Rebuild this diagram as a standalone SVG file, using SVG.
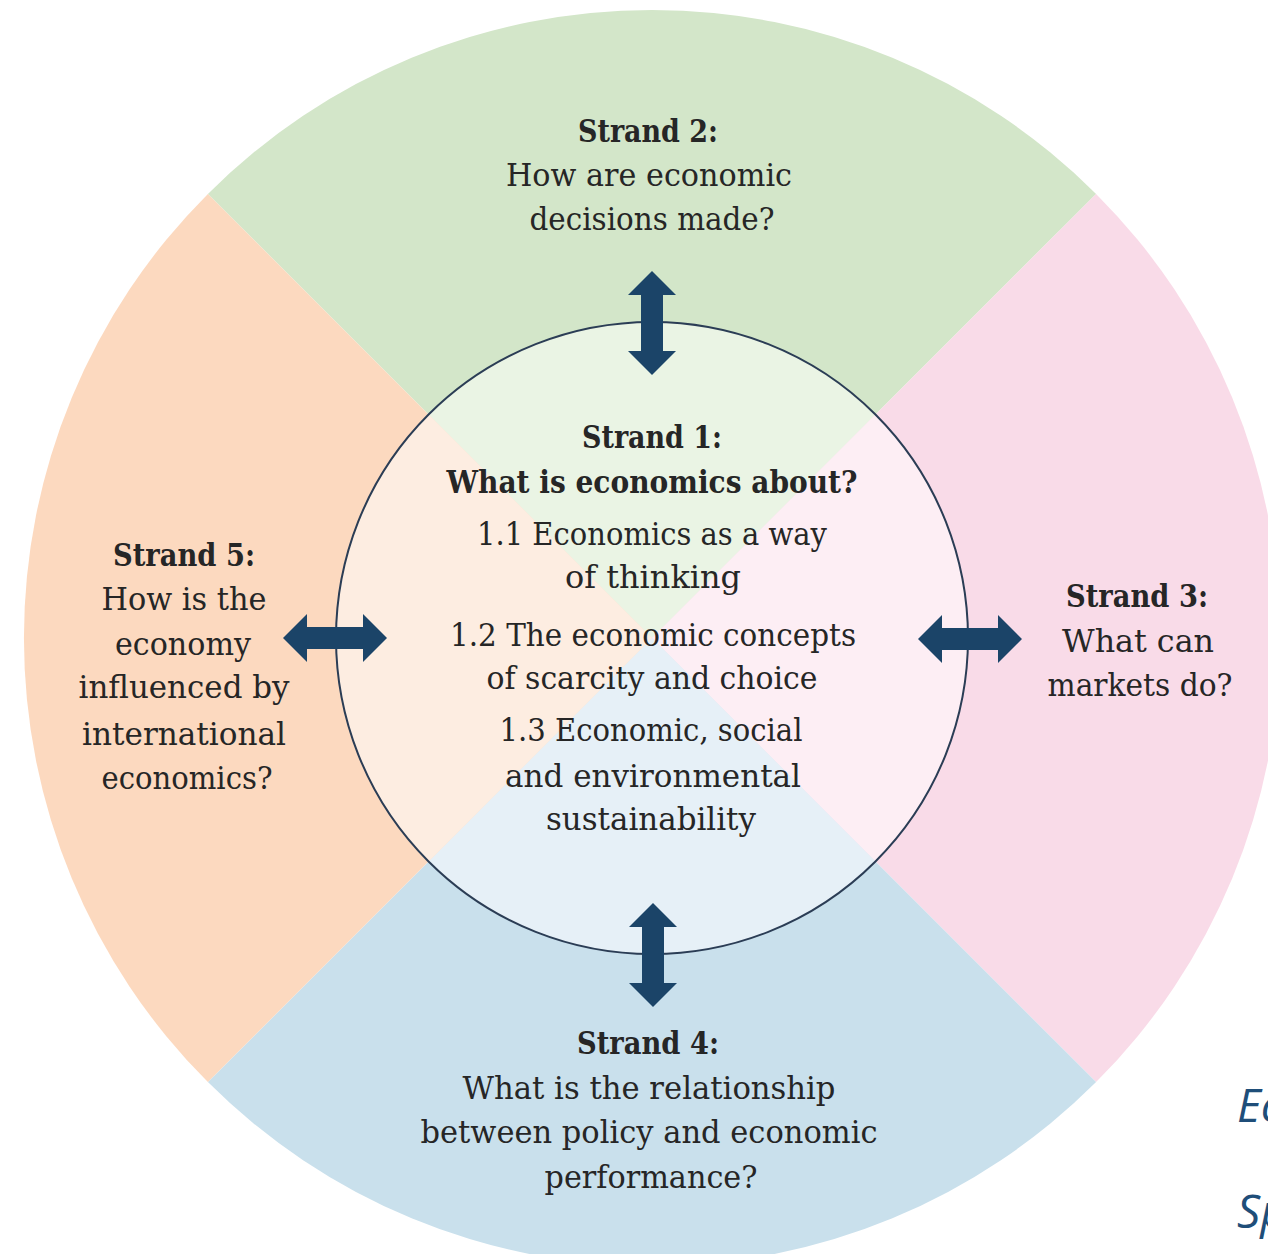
<svg xmlns="http://www.w3.org/2000/svg" width="1268" height="1254" viewBox="0 0 1268 1254">
<style>
  text { font-family: "DejaVu Serif", "Liberation Serif", serif; fill: #262626; text-anchor: middle; }
  .b { font-weight: bold; font-size: 32px; }
  .r { font-size: 32px; }
  .note { font-family: "Open Sans", "Liberation Sans", sans-serif; font-style: italic; font-size: 46px; fill: #1f4e79; text-anchor: start; }
  .arrow { fill: #1b4468; }
</style>
<defs>
  <path id="dbl" d="M0,-52 L24,-28 L11,-28 L11,28 L24,28 L0,52 L-24,28 L-11,28 L-11,-28 L-24,-28 Z"/>
</defs>
<rect width="1268" height="1254" fill="#ffffff"/>
<g id="outer-ring">
  <path d="M652,638 L207.9,193.9 A628,628 0 0 1 1096.1,193.9 Z" fill="#d3e6c9"/>
  <path d="M652,638 L1096.1,193.9 A628,628 0 0 1 1096.1,1082.1 Z" fill="#f9dbe8"/>
  <path d="M652,638 L1096.1,1082.1 A628,628 0 0 1 207.9,1082.1 Z" fill="#c9e0ec"/>
  <path d="M652,638 L207.9,1082.1 A628,628 0 0 1 207.9,193.9 Z" fill="#fcd9bf"/>
</g>
<g id="strand1-circle">
  <path d="M652,638 L428.6,414.6 A316,316 0 0 1 875.4,414.6 Z" fill="#eaf4e4"/>
  <path d="M652,638 L875.4,414.6 A316,316 0 0 1 875.4,861.4 Z" fill="#fdeef4"/>
  <path d="M652,638 L875.4,861.4 A316,316 0 0 1 428.6,861.4 Z" fill="#e6f0f7"/>
  <path d="M652,638 L428.6,861.4 A316,316 0 0 1 428.6,414.6 Z" fill="#fdede1"/>
  <circle cx="652" cy="638" r="316" fill="none" stroke="#2b3d55" stroke-width="2"/>
</g>
<g id="strand1-text">
  <text class="b" x="652" y="448" textLength="140" lengthAdjust="spacingAndGlyphs">Strand 1:</text>
  <text class="b" x="652" y="493" textLength="411" lengthAdjust="spacingAndGlyphs">What is economics about?</text>
  <text class="r" x="652" y="545" textLength="350" lengthAdjust="spacingAndGlyphs">1.1 Economics as a way</text>
  <text class="r" x="653" y="588" textLength="176" lengthAdjust="spacingAndGlyphs">of thinking</text>
  <text class="r" x="653" y="646" textLength="406" lengthAdjust="spacingAndGlyphs">1.2 The economic concepts</text>
  <text class="r" x="652" y="689" textLength="331" lengthAdjust="spacingAndGlyphs">of scarcity and choice</text>
  <text class="r" x="651" y="741" textLength="303" lengthAdjust="spacingAndGlyphs">1.3 Economic, social</text>
  <text class="r" x="653" y="787" textLength="296" lengthAdjust="spacingAndGlyphs">and environmental</text>
  <text class="r" x="651" y="830" textLength="210" lengthAdjust="spacingAndGlyphs">sustainability</text>
</g>
<g id="strand2">
  <text class="b" x="648" y="142" textLength="140" lengthAdjust="spacingAndGlyphs">Strand 2:</text>
  <text class="r" x="649" y="186" textLength="286" lengthAdjust="spacingAndGlyphs">How are economic</text>
  <text class="r" x="652" y="230" textLength="245" lengthAdjust="spacingAndGlyphs">decisions made?</text>
</g>
<g id="strand3">
  <text class="b" x="1137" y="607" textLength="142" lengthAdjust="spacingAndGlyphs">Strand 3:</text>
  <text class="r" x="1138" y="652" textLength="152" lengthAdjust="spacingAndGlyphs">What can</text>
  <text class="r" x="1140" y="696" textLength="185" lengthAdjust="spacingAndGlyphs">markets do?</text>
</g>
<g id="strand4">
  <text class="b" x="648" y="1054" textLength="142" lengthAdjust="spacingAndGlyphs">Strand 4:</text>
  <text class="r" x="649" y="1099" textLength="373" lengthAdjust="spacingAndGlyphs">What is the relationship</text>
  <text class="r" x="649" y="1143" textLength="457" lengthAdjust="spacingAndGlyphs">between policy and economic</text>
  <text class="r" x="651" y="1188" textLength="213" lengthAdjust="spacingAndGlyphs">performance?</text>
</g>
<g id="strand5">
  <text class="b" x="184" y="566" textLength="142" lengthAdjust="spacingAndGlyphs">Strand 5:</text>
  <text class="r" x="184" y="610" textLength="165" lengthAdjust="spacingAndGlyphs">How is the</text>
  <text class="r" x="183" y="655" textLength="136" lengthAdjust="spacingAndGlyphs">economy</text>
  <text class="r" x="184" y="698" textLength="211" lengthAdjust="spacingAndGlyphs">influenced by</text>
  <text class="r" x="184" y="745" textLength="204" lengthAdjust="spacingAndGlyphs">international</text>
  <text class="r" x="187" y="789" textLength="171" lengthAdjust="spacingAndGlyphs">economics?</text>
</g>
<g id="connectors" class="arrow">
  <use href="#dbl" transform="translate(652,323)"/>
  <use href="#dbl" transform="translate(653,955)"/>
  <use href="#dbl" transform="translate(335,638) rotate(90)"/>
  <use href="#dbl" transform="translate(970,639) rotate(90)"/>
</g>
<text class="note" x="1237" y="1122">Ec</text>
<text class="note" x="1237" y="1228">Sp</text>
</svg>
